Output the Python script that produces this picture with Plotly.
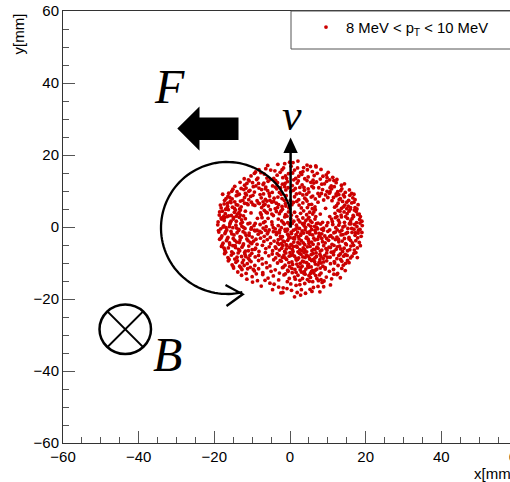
import numpy as np
import plotly.graph_objects as go

# ---- data: hit positions (mm), grouped by y band ----
band_p17 = [(-3.2,17.4),(0.8,17.9),(4.5,17.2),(-5.9,17.1),(2.1,18.3),(6.8,17.0),(-1.4,17.6)]
band_p15 = [(-9.1,15.3),(-6.4,16.2),(-4.0,15.6),(-1.7,16.4),(1.2,15.8),(3.6,16.5),(5.9,15.4),(8.2,16.0),
            (10.1,15.2),(-7.7,15.1),(-2.6,15.2),(2.8,15.1),(6.9,16.7),(0.3,16.9),(4.6,15.9)]
band_p13 = [(-12.1,13.4),(-10.3,14.2),(-8.5,13.6),(-6.8,14.7),(-5.2,13.2),(-3.4,14.4),(-1.9,13.7),(-0.4,14.8),
            (1.5,13.5),(3.1,14.6),(4.8,13.9),(6.4,14.3),(8.0,13.3),(9.6,14.5),(11.3,13.8),(12.4,13.2),
            (-9.4,14.9),(-4.3,13.5),(2.3,14.1),(7.2,14.9),(10.5,13.1),(-11.0,13.1)]
band_p11 = [(-14.6,11.3),(-13.2,12.4),(-12.0,11.6),(-10.8,12.8),(-9.7,11.2),(-8.3,12.1),(-7.1,11.8),(-5.8,12.7),
            (-4.6,11.4),(-3.3,12.3),(-2.0,11.9),(-0.7,12.6),(0.6,11.5),(1.9,12.2),(3.2,11.7),(4.5,12.9),
            (5.8,11.3),(7.0,12.5),(8.4,11.9),(9.7,12.7),(10.9,11.4),(12.2,12.3),(13.6,11.6),(14.4,12.0),
            (-11.4,12.1),(-6.4,11.1),(2.6,11.0),(6.3,12.2),(11.6,12.9),(-1.4,11.2)]
band_p9 = [(-16.2,9.4),(-15.1,10.5),(-14.0,9.8),(-12.9,10.7),(-11.8,9.3),(-10.6,10.2),(-9.4,9.7),(-8.2,10.8),
           (-7.0,9.2),(-5.9,10.1),(-4.7,9.6),(-3.5,10.6),(-2.3,9.1),(-1.1,10.3),(0.2,9.8),(1.4,10.7),
           (2.6,9.4),(3.8,10.2),(5.0,9.7),(6.2,10.9),(7.4,9.3),(8.6,10.4),(9.8,9.9),(11.0,10.6),
           (12.2,9.2),(13.4,10.1),(14.6,9.6),(15.7,10.3),(16.3,9.3),(-13.4,9.1),(-6.5,10.6),(4.4,9.1),
           (10.4,9.4),(-0.5,10.9)]
band_p7 = [(-17.3,7.4),(-16.4,8.5),(-15.3,7.8),(-14.2,8.7),(-13.1,7.2),(-12.0,8.2),(-10.9,7.6),(-9.8,8.8),
           (-8.7,7.3),(-7.6,8.1),(-6.5,7.7),(-5.4,8.6),(-4.3,7.1),(-3.2,8.3),(-2.1,7.9),(-1.0,8.7),
           (0.1,7.4),(1.2,8.4),(2.3,7.6),(3.4,8.9),(4.5,7.2),(5.6,8.3),(6.7,7.8),(7.8,8.6),
           (8.9,7.5),(10.0,8.2),(11.1,7.3),(12.2,8.7),(13.3,7.9),(14.4,8.4),(15.5,7.4),(16.6,8.1),
           (17.2,7.6),(-15.8,7.1),(-11.5,8.9),(-7.1,7.0),(3.9,8.0),(9.4,8.9),(13.9,7.1)]
band_p5 = [(-18.2,5.3),(-17.4,6.4),(-16.5,5.7),(-15.6,6.8),(-14.7,5.2),(-13.8,6.1),(-12.9,5.6),(-12.0,6.6),
           (-11.1,6.2),(-10.2,6.9),(-9.3,6.0),(-8.4,6.7),(-7.5,5.4),(-6.6,6.3),(-5.7,5.8),(-4.8,6.9),
           (-3.9,5.1),(-3.0,6.2),(-2.1,5.7),(-1.2,6.5),(-0.3,5.3),(0.9,6.8),(3.4,6.7),(4.6,5.4),
           (5.7,6.3),(6.6,5.6),(7.4,6.9),(11.8,5.5),(12.7,6.6),(13.6,5.2),(14.5,6.1),(15.4,5.8),
           (16.3,6.7),(17.2,5.4),(18.0,6.2),(-13.3,5.0),(-16.9,5.0),(15.0,5.1)]
band_p3 = [(-18.7,3.3),(-17.9,4.4),(-17.1,3.7),(-16.3,4.8),(-15.5,3.2),(-14.7,4.1),(-13.9,3.6),(-13.1,4.7),
           (-12.3,3.1),(-11.8,4.4),(-7.6,3.4),(-6.8,4.6),(-6.0,3.9),(-5.2,4.8),(-4.4,3.2),(-3.6,4.3),
           (-2.8,3.7),(-2.0,4.9),(-1.2,3.4),(-0.4,4.2),(0.4,3.3),(3.6,4.5),(4.4,3.4),(5.2,4.1),
           (6.0,3.6),(6.7,4.8),(11.9,3.8),(12.7,4.6),(13.5,3.3),(14.3,4.2),(15.1,3.7),(15.9,4.9),
           (16.7,3.2),(17.5,4.3),(18.3,3.6),(-17.5,3.0),(-14.2,3.0),(17.0,4.7)]
band_p1 = [(-19.0,1.4),(-18.2,2.5),(-17.4,1.8),(-16.6,2.9),(-15.8,1.2),(-15.0,2.2),(-14.2,1.6),(-13.4,2.7),
           (-12.6,1.3),(-11.8,2.3),(-10.6,1.1),(-7.4,2.6),(-6.6,1.5),(-5.8,2.4),(-2.2,1.7),(-1.4,2.8),
           (-0.6,1.2),(0.2,2.3),(1.0,1.6),(1.8,2.9),(2.6,1.4),(3.4,2.5),(4.2,1.8),(5.0,2.7),
           (5.8,1.3),(6.6,2.2),(7.4,1.1),(11.2,1.5),(12.0,2.6),(12.8,1.9),(13.6,2.8),(14.4,1.3),
           (15.2,2.4),(16.0,1.7),(16.8,2.9),(17.6,1.2),(18.4,2.1),(19.0,1.6),(8.6,1.3),(10.0,1.2),(-9.2,1.0)]
band_0 = [(-19.1,0.6),(-18.3,-0.5),(-17.5,0.3),(-16.7,-0.8),(-15.9,0.8),(-15.1,-0.2),(-14.3,0.5),(-13.5,-0.7),
          (-12.7,0.2),(-11.9,-0.4),(-11.1,0.9),(-10.3,-0.6),(-9.5,0.4),(-8.7,-0.9),(-7.9,0.7),(-7.1,-0.3),
          (-6.3,0.1),(-5.5,-0.8),(-4.7,0.6),(-3.9,-0.5),(-3.1,0.4),(-2.3,-0.2),(-1.5,0.8),(-0.7,-0.6),
          (0.1,0.3),(0.9,-0.9),(1.7,0.5),(2.5,-0.4),(3.3,0.9),(4.1,-0.1),(4.9,0.6),(5.7,-0.7),
          (6.5,0.2),(7.3,-0.5),(8.1,0.8),(8.9,-0.3),(9.7,0.4),(10.5,-0.8),(11.3,0.7),(12.1,-0.2),
          (12.9,0.5),(13.7,-0.9),(14.5,0.3),(15.3,-0.4),(16.1,0.9),(16.9,-0.6),(17.7,0.1),(18.5,-0.7),(19.1,0.4)]
band_m1 = [(-18.8,-1.4),(-18.0,-2.5),(-17.2,-1.8),(-16.4,-2.9),(-15.6,-1.2),(-14.8,-2.2),(-14.0,-1.6),(-13.2,-2.7),
           (-12.4,-1.3),(-11.6,-2.3),(-10.8,-1.7),(-10.0,-2.8),(-9.2,-1.1),(-8.4,-2.0),(-7.6,-1.5),(-6.8,-2.6),
           (-6.0,-1.9),(-5.2,-2.9),(-4.4,-1.3),(-3.6,-2.1),(-2.8,-1.6),(-2.0,-2.7),(-1.2,-1.2),(-0.4,-2.4),
           (0.4,-1.8),(1.2,-2.9),(2.0,-1.4),(2.8,-2.3),(3.6,-1.7),(4.4,-2.8),(5.2,-1.3),(6.0,-2.2),
           (6.8,-1.6),(7.6,-2.7),(8.4,-1.9),(9.2,-2.5),(10.0,-1.2),(10.8,-2.4),(11.6,-1.6),(12.4,-2.8),
           (13.2,-1.3),(14.0,-2.1),(14.8,-1.8),(15.6,-2.9),(16.4,-1.5),(17.2,-2.3),(18.0,-1.7),(18.8,-2.6),
           (-0.8,-1.0),(1.6,-2.1),(3.2,-1.1),(0.0,-2.9)]
band_m3 = [(-18.6,-3.4),(-17.7,-4.5),(-16.8,-3.8),(-15.9,-4.9),(-15.0,-3.2),(-14.1,-4.2),(-13.2,-3.6),(-12.3,-4.7),
           (-11.4,-3.3),(-10.5,-4.3),(-9.6,-3.9),(-8.7,-4.8),(-7.8,-3.1),(-6.9,-4.0),(-6.0,-3.5),(-5.1,-4.6),
           (-4.2,-3.9),(-3.3,-4.4),(-2.4,-3.2),(-1.5,-4.1),(-0.6,-3.7),(0.3,-4.8),(1.2,-3.3),(2.1,-4.3),
           (3.0,-3.8),(3.9,-4.9),(4.8,-3.4),(5.7,-4.2),(6.6,-3.6),(7.5,-4.7),(8.4,-3.2),(9.3,-4.4),
           (10.2,-3.7),(11.1,-4.8),(12.0,-3.5),(12.9,-4.1),(13.8,-3.9),(14.7,-4.6),(15.6,-3.3),(16.5,-4.4),
           (17.4,-3.8),(18.3,-4.3),(-1.0,-4.9),(0.8,-3.1),(2.6,-4.7),(4.3,-3.1),(-2.9,-4.8)]
band_m5 = [(-18.1,-5.4),(-17.2,-6.5),(-16.3,-5.8),(-15.4,-6.9),(-14.5,-5.2),(-13.6,-6.2),(-12.7,-5.6),(-11.8,-6.7),
           (-10.9,-5.3),(-10.0,-6.3),(-9.1,-5.9),(-8.2,-6.8),(-7.3,-5.1),(-6.4,-6.0),(-5.5,-5.5),(-4.6,-6.6),
           (-3.7,-5.9),(-2.8,-6.4),(-1.9,-5.2),(-1.0,-6.1),(-0.1,-5.7),(0.8,-6.8),(1.7,-5.3),(2.6,-6.3),
           (3.5,-5.8),(4.4,-6.9),(5.3,-5.4),(6.2,-6.2),(7.1,-5.6),(8.0,-6.7),(8.9,-5.2),(9.8,-6.4),
           (10.7,-5.7),(11.6,-6.8),(12.5,-5.5),(13.4,-6.1),(14.3,-5.9),(15.2,-6.6),(16.1,-5.3),(17.0,-6.4),
           (17.8,-5.8),(0.3,-5.0),(2.1,-6.9),(-1.4,-6.8)]
band_m7 = [(-17.3,-7.4),(-16.4,-8.5),(-15.5,-7.8),(-14.6,-8.9),(-13.7,-7.2),(-12.8,-8.2),(-11.9,-7.6),(-11.0,-8.7),
           (-10.1,-7.3),(-9.2,-8.3),(-8.3,-7.9),(-7.4,-8.8),(-6.5,-7.1),(-5.6,-8.0),(-4.7,-7.5),(-3.8,-8.6),
           (-2.9,-7.9),(-2.0,-8.4),(-1.1,-7.2),(-0.2,-8.1),(0.7,-7.7),(1.6,-8.8),(2.5,-7.3),(3.4,-8.3),
           (4.3,-7.8),(5.2,-8.9),(6.1,-7.4),(7.0,-8.2),(7.9,-7.6),(8.8,-8.7),(9.7,-7.2),(10.6,-8.4),
           (11.5,-7.7),(12.4,-8.8),(13.3,-7.5),(14.2,-8.1),(15.1,-7.9),(16.0,-8.6),(16.9,-7.3),(4.8,-8.1),
           (6.6,-8.6),(9.2,-7.9)]
band_m9 = [(-16.3,-9.4),(-15.3,-10.5),(-14.3,-9.8),(-13.3,-10.9),(-12.3,-9.2),(-11.3,-10.2),(-10.3,-9.6),(-9.3,-10.7),
           (-8.3,-9.3),(-7.3,-10.3),(-6.3,-9.9),(-5.3,-10.8),(-4.3,-9.1),(-3.3,-10.0),(-2.3,-9.5),(-1.3,-10.6),
           (-0.3,-9.9),(0.7,-10.4),(1.7,-9.2),(2.7,-10.1),(3.7,-9.7),(4.7,-10.8),(5.7,-9.3),(6.7,-10.3),
           (7.7,-9.8),(8.7,-10.9),(9.7,-9.4),(10.7,-10.2),(11.7,-9.6),(12.7,-10.7),(13.7,-9.5),(14.7,-10.1),
           (15.6,-9.9),(3.2,-10.9),(6.2,-9.0),(8.2,-10.0)]
band_m11 = [(-14.9,-11.4),(-13.8,-12.5),(-12.7,-11.8),(-11.6,-12.9),(-10.5,-11.2),(-9.4,-12.2),(-8.3,-11.6),(-7.2,-12.7),
            (-6.1,-11.3),(-5.0,-12.3),(-3.9,-11.9),(-2.8,-12.8),(-1.7,-11.1),(-0.6,-12.0),(0.5,-11.5),(1.6,-12.6),
            (2.7,-11.9),(3.8,-12.4),(4.9,-11.2),(6.0,-12.1),(7.1,-11.7),(8.2,-12.8),(9.3,-11.3),(10.4,-12.3),
            (11.5,-11.8),(12.6,-12.9),(13.7,-11.5),(14.6,-12.1),(5.4,-12.9),(2.2,-11.0)]
band_m13 = [(-12.8,-13.4),(-11.4,-14.5),(-10.0,-13.8),(-8.6,-14.9),(-7.2,-13.2),(-5.8,-14.2),(-4.4,-13.6),(-3.0,-14.7),
            (-1.6,-13.3),(-0.2,-14.3),(1.2,-13.9),(2.6,-14.8),(4.0,-13.1),(5.4,-14.0),(6.8,-13.5),(8.2,-14.6),
            (9.6,-13.9),(11.0,-14.4),(12.4,-13.2),(13.3,-14.1),(3.3,-14.3),(7.5,-14.9)]
band_m15 = [(-9.9,-15.3),(-7.6,-16.4),(-5.3,-15.6),(-3.0,-16.7),(-0.7,-15.2),(1.6,-16.2),(3.9,-15.7),(6.2,-16.8),
            (8.5,-15.4),(10.7,-16.1),(-1.8,-16.9),(5.1,-15.1),(7.4,-16.5)]
band_m17 = [(-4.6,-17.4),(-1.9,-18.2),(0.4,-17.6),(2.8,-18.9),(5.3,-17.3),(7.9,-18.0),(1.2,-19.4),(-0.8,-17.1),(4.1,-18.4)]

# denser regions of the hit pattern
left_arc = [(-17.8,9.1),(-16.9,7.9),(-18.4,6.1),(-15.9,8.2),(-14.6,7.0),(-17.0,4.9),(-15.2,5.5),(-13.5,4.0),
            (-18.1,2.2),(-16.2,3.1),(-14.9,2.6),(-12.8,2.0),(-17.7,0.0),(-16.0,0.1),(-14.1,-0.3),(-12.3,-0.1),
            (-18.9,-1.0),(-17.0,-1.3),(-15.4,-1.9),(-13.6,-1.0),(-11.9,-1.7),(-18.2,-3.0),(-16.6,-3.3),(-14.6,-3.7),
            (-12.9,-2.9),(-11.1,-3.8),(-17.9,-5.0),(-16.0,-4.4),(-14.4,-5.7),(-12.4,-5.1),(-11.0,-6.6),(-17.0,-7.0),
            (-15.0,-7.3),(-13.3,-6.6),(-11.7,-8.2),(-16.1,-9.0),(-14.0,-8.4),(-12.6,-9.9),(-10.7,-9.2),(-15.0,-11.0),
            (-13.0,-11.3),(-11.2,-11.6),(-13.9,-9.4),(-12.0,-7.1),(-10.1,-4.6),(-10.8,-2.3),(-10.2,-0.2),(-13.0,0.9),
            (-15.6,1.6),(-17.3,2.6),(-18.6,4.2),(-16.5,6.6),(-14.2,6.2),(-12.5,7.4),(-13.8,8.9),(-15.4,9.9),
            (-12.2,10.4),(-10.4,8.5),(-11.4,6.5),(-13.1,3.3),(-14.4,4.7),(-16.9,-0.2),(-15.1,-5.2),(-13.4,-4.3),
            (-17.4,-5.9),(-12.1,-10.7),(-9.7,-11.8),(-10.6,-7.9),(-9.3,-6.2),(-9.0,-3.4)]
centre_low = [(-3.6,-1.5),(-2.5,-2.6),(-1.3,-0.7),(0.3,-1.4),(1.5,-0.6),(2.9,-1.9),(4.0,-0.8),(5.3,-2.0),
              (6.6,-0.9),(7.7,-1.8),(8.8,-0.9),(-3.1,-3.5),(-1.8,-3.9),(-0.3,-3.1),(1.0,-4.2),(2.4,-3.3),
              (3.5,-4.4),(4.9,-3.9),(6.1,-4.8),(7.3,-3.4),(8.6,-4.1),(-3.9,-5.5),(-2.2,-5.9),(-0.8,-5.2),
              (0.6,-6.2),(1.9,-5.6),(3.1,-6.6),(4.6,-5.5),(5.8,-6.6),(7.4,-5.9),(8.4,-6.4),(-3.4,-7.4),
              (-1.6,-7.8),(0.0,-7.1),(1.2,-8.1),(2.9,-7.6),(4.0,-8.5),(5.6,-7.7),(6.9,-7.2),(8.2,-8.2),
              (-2.6,-9.3),(-0.9,-9.0),(0.5,-9.7),(2.0,-9.0),(3.3,-9.5),(4.4,-9.9),(5.2,-8.8),(6.5,-9.6),
              (7.4,-10.5),(8.9,-9.7),(-2.0,-11.3),(-0.1,-11.0),(1.3,-11.8),(2.9,-11.2),(4.2,-11.7),(5.6,-11.1),
              (6.7,-12.0),(8.0,-11.4),(-1.2,-13.0),(0.6,-12.7),(2.1,-13.4),(3.7,-12.9),(5.0,-13.5),(6.3,-12.8),
              (7.8,-13.3),(1.4,-14.5),(4.6,-14.6),(6.0,-15.2),(0.2,-15.8),(2.6,-16.0),(-0.6,-2.0),(2.2,-2.7),
              (4.6,-1.5),(6.3,-3.1),(0.9,-5.4),(3.9,-6.3),(6.6,-6.3),(-1.3,-8.6),(2.3,-8.6),(4.9,-10.4),
              (7.9,-9.1),(-0.5,-12.3),(3.0,-12.5),(5.7,-12.3),(7.1,-14.3),(1.8,-10.3),(3.7,-7.1),(0.3,-7.9),
              (-2.3,-4.6),(5.0,-4.6),(7.9,-2.6),(9.7,-3.2),(9.5,-6.0),(9.9,-8.4),(9.3,-11.7)]
right_arc = [(12.6,9.8),(14.1,8.9),(15.8,8.8),(13.0,7.6),(15.0,6.9),(16.9,6.9),(12.3,5.9),(14.1,5.6),
             (16.0,5.4),(17.7,5.0),(13.2,4.4),(15.6,4.4),(17.9,3.5),(12.4,2.9),(14.7,2.9),(16.4,2.3),
             (18.5,1.1),(13.1,1.2),(15.7,0.9),(17.1,0.7),(12.5,-0.8),(14.0,0.0),(16.3,-0.4),(18.1,-0.9),
             (13.5,-2.2),(15.2,-1.5),(17.3,-1.6),(12.8,-3.4),(14.4,-3.2),(16.0,-3.7),(17.9,-3.0),(13.1,-5.3),
             (14.9,-4.9),(16.8,-5.1),(12.2,-6.2),(13.9,-6.8),(15.8,-6.3),(17.4,-7.1),(12.9,-7.9),(14.6,-7.6),
             (16.4,-8.1),(13.4,-9.0),(15.2,-9.3),(11.8,-10.0),(14.1,-10.6),(11.3,-3.0),(11.6,-5.1),(10.9,-7.0),
             (11.0,2.2),(11.5,8.2),(10.6,9.8),(13.7,10.6),(16.9,9.1),(18.6,2.9),(19.0,-1.5),(18.6,-5.2),
             (17.8,-8.5),(12.0,-1.4),(10.3,-5.6),(10.5,-2.6)]
top_cap = [(-10.9,9.9),(-9.0,11.4),(-7.5,10.4),(-5.5,9.3),(-3.9,11.1),(-2.8,9.6),(-1.3,12.1),(0.9,10.2),
           (2.2,12.8),(3.7,11.0),(5.5,12.4),(7.6,10.9),(9.1,12.0),(10.6,10.9),(-8.8,13.2),(-6.1,13.6),
           (-3.8,12.9),(-1.2,14.2),(1.0,13.1),(3.9,13.4),(6.1,13.0),(8.7,14.1),(-5.1,15.8),(-2.1,15.9),
           (0.7,15.0),(3.4,15.4),(5.4,16.8),(-0.1,18.0),(-7.9,9.0),(-4.2,8.0),(1.7,9.2),(6.0,8.6),
           (8.3,9.3),(-2.5,10.9),(4.8,10.6),(-9.9,12.3),(11.7,11.2),(9.8,13.7),(-6.9,12.2),(12.9,9.0),
           (-11.6,10.8),(-0.9,13.5),(2.0,16.4),(-8.2,15.9)]
middle = [(-7.0,6.0),(-5.3,7.4),(-3.6,6.6),(-1.5,7.4),(0.5,6.2),(2.4,6.1),(4.2,7.7),(5.9,5.1),
          (-6.3,4.1),(-4.8,3.6),(-2.4,4.4),(-0.8,3.0),(1.2,4.1),(2.8,3.8),(4.8,2.3),(6.3,4.2),
          (-7.0,1.2),(-4.8,1.4),(-3.1,2.2),(-1.8,1.2),(0.6,1.0),(2.2,2.0),(3.8,1.1),(5.4,1.7),
          (-6.5,-0.9),(-4.4,-0.2),(-2.7,-0.9),(-0.2,0.8),(1.9,-0.2),(3.7,0.4),(5.5,0.2),(7.0,0.9),
          (-8.0,-1.2),(-5.8,-1.4),(-7.8,3.9),(-6.1,7.2),(-3.3,5.4),(-1.1,5.8),(1.8,7.1),(3.0,5.3),
          (5.0,6.2),(6.8,2.9),(7.1,-0.2),(8.4,-0.6),(-9.4,-0.9),(-8.1,6.5),(-9.8,6.2),
          (-10.3,3.9),(-8.6,2.4),(9.4,5.2),(10.5,2.9),(8.0,3.6)]
bottom_tail = [(-8.9,-13.0),(-6.6,-14.8),(-4.2,-15.9),(9.0,-15.0),(11.6,-13.1),(3.0,-17.4),(5.8,-17.9),
               (-2.4,-18.3),(8.9,-16.6),(1.9,-18.2)]

groups = [band_p17, band_p15, band_p13, band_p11, band_p9, band_p7, band_p5, band_p3, band_p1,
          band_0, band_m1, band_m3, band_m5, band_m7, band_m9, band_m11, band_m13, band_m15, band_m17,
          left_arc, centre_low, right_arc, top_cap, middle, bottom_tail]
x_mm = [p[0] for g in groups for p in g]
y_mm = [p[1] for g in groups for p in g]

x_ticks = [-60, -40, -20, 0, 20, 40, 60]
y_ticks = [-60, -40, -20, 0, 20, 40, 60]
legend_label = "8 MeV &lt; p<sub>T</sub> &lt; 10 MeV"

# ---- figure geometry (pixels) ----
W, H = 530, 482
L, R, T, B = 63, 13, 11, 39
pw, ph = W - L - R, H - T - B

def X(px):   # pixel -> data x
    return -60 + (px - L) * 120.0 / pw

def Y(py):   # pixel -> data y
    return 60 - (py - T) * 120.0 / ph

def pth(pts, close=False):
    s = "M " + " L ".join(f"{X(a):.3f},{Y(b):.3f}" for a, b in pts)
    return s + (" Z" if close else "")

fig = go.Figure()
fig.add_trace(go.Scatter(
    x=x_mm, y=y_mm, mode="markers", name=legend_label,
    marker=dict(color="#cc0000", size=3.8, line=dict(width=0)),
))

shapes = []
# big force arrow (pointing left)
shapes.append(dict(type="path", xref="x", yref="y", fillcolor="black", line=dict(width=0),
                   path=pth([(177.3, 128.6), (199.5, 106.5), (199.5, 117.5), (238.5, 117.5),
                             (238.5, 140.0), (199.5, 140.0), (199.5, 150.7)], close=True)))
# velocity arrow
shapes.append(dict(type="path", xref="x", yref="y", line=dict(color="black", width=2.5),
                   path=pth([(290.6, 227.5), (290.6, 150)])))
shapes.append(dict(type="path", xref="x", yref="y", fillcolor="black", line=dict(width=0),
                   path=pth([(290.6, 137.5), (297.8, 153), (283.4, 153)], close=True)))
# circular trajectory arc
th = np.radians(np.linspace(15.7, 283.4, 90))
arc = [(227 + 66 * np.cos(t), 228 - 66 * np.sin(t)) for t in th]
shapes.append(dict(type="path", xref="x", yref="y", line=dict(color="black", width=2.3), path=pth(arc)))
shapes.append(dict(type="path", xref="x", yref="y", line=dict(color="black", width=2.3),
                   path=pth([(225.5, 285.0), (242.7, 294.3), (226.5, 306.0)])))
# B field (into page) symbol
shapes.append(dict(type="circle", xref="x", yref="y", line=dict(color="black", width=2.5),
                   x0=X(99.5), x1=X(151), y0=Y(354), y1=Y(304.5)))
shapes.append(dict(type="path", xref="x", yref="y", line=dict(color="black", width=1.8),
                   path=pth([(107.5, 311.5), (143, 347)])))
shapes.append(dict(type="path", xref="x", yref="y", line=dict(color="black", width=1.8),
                   path=pth([(107.5, 347), (143, 311.5)])))
# legend frame
shapes.append(dict(type="rect", xref="paper", yref="paper", line=dict(color="#555", width=1),
                   x0=(291 - L) / pw, x1=1.0, y0=(H - B - 49) / ph, y1=1.0))

annots = []
def txt(s, px, py, size):
    annots.append(dict(text=s, x=X(px), y=Y(py), xref="x", yref="y", showarrow=False,
                       xanchor="center", yanchor="middle",
                       font=dict(family="Liberation Serif", size=size, color="black")))
txt("<i>F</i>", 169, 86, 48)
txt("<i>v</i>", 291.5, 115, 44)
txt("<i>B</i>", 167.5, 354, 48)

annots.append(dict(text="x[mm]", xref="paper", yref="paper", x=(471.5 - L) / pw, y=(H - B - 473.5) / ph,
                   xanchor="left", yanchor="middle", showarrow=False,
                   font=dict(family="Liberation Sans", size=15, color="black")))
annots.append(dict(text="y[mm]", xref="paper", yref="paper", x=(18 - L) / pw, y=(H - B - 34.5) / ph,
                   xanchor="center", yanchor="middle", showarrow=False, textangle=-90,
                   font=dict(family="Liberation Sans", size=15, color="black")))

axis_common = dict(showgrid=False, zeroline=False, showline=True, linecolor="#333", linewidth=1,
                   mirror=True, automargin=False,
                   ticks="inside", ticklen=12, tickcolor="#555", tickwidth=1,
                   tickfont=dict(family="Liberation Sans", size=15, color="black"),
                   minor=dict(ticks="inside", ticklen=6, dtick=5, tickcolor="#555", showgrid=False))

fig.update_layout(
    width=W, height=H, autosize=False,
    margin=dict(l=L, r=R, t=T, b=B, pad=0, autoexpand=False),
    paper_bgcolor="white", plot_bgcolor="white",
    xaxis=dict(range=[-60, 60], tickvals=x_ticks, **axis_common),
    yaxis=dict(range=[-60, 60], tickvals=y_ticks, **axis_common),
    shapes=shapes, annotations=annots,
    showlegend=True,
    legend=dict(x=(306 - L) / pw, y=1.0, xanchor="left", yanchor="top",
                bgcolor="rgba(0,0,0,0)", borderwidth=0,
                font=dict(family="Liberation Sans", size=14.8, color="black"),
                itemsizing="trace"),
)

fig.write_html("out.html", config={"displayModeBar": False},
               post_script="document.body.style.margin='0';document.body.style.overflow='hidden';")
